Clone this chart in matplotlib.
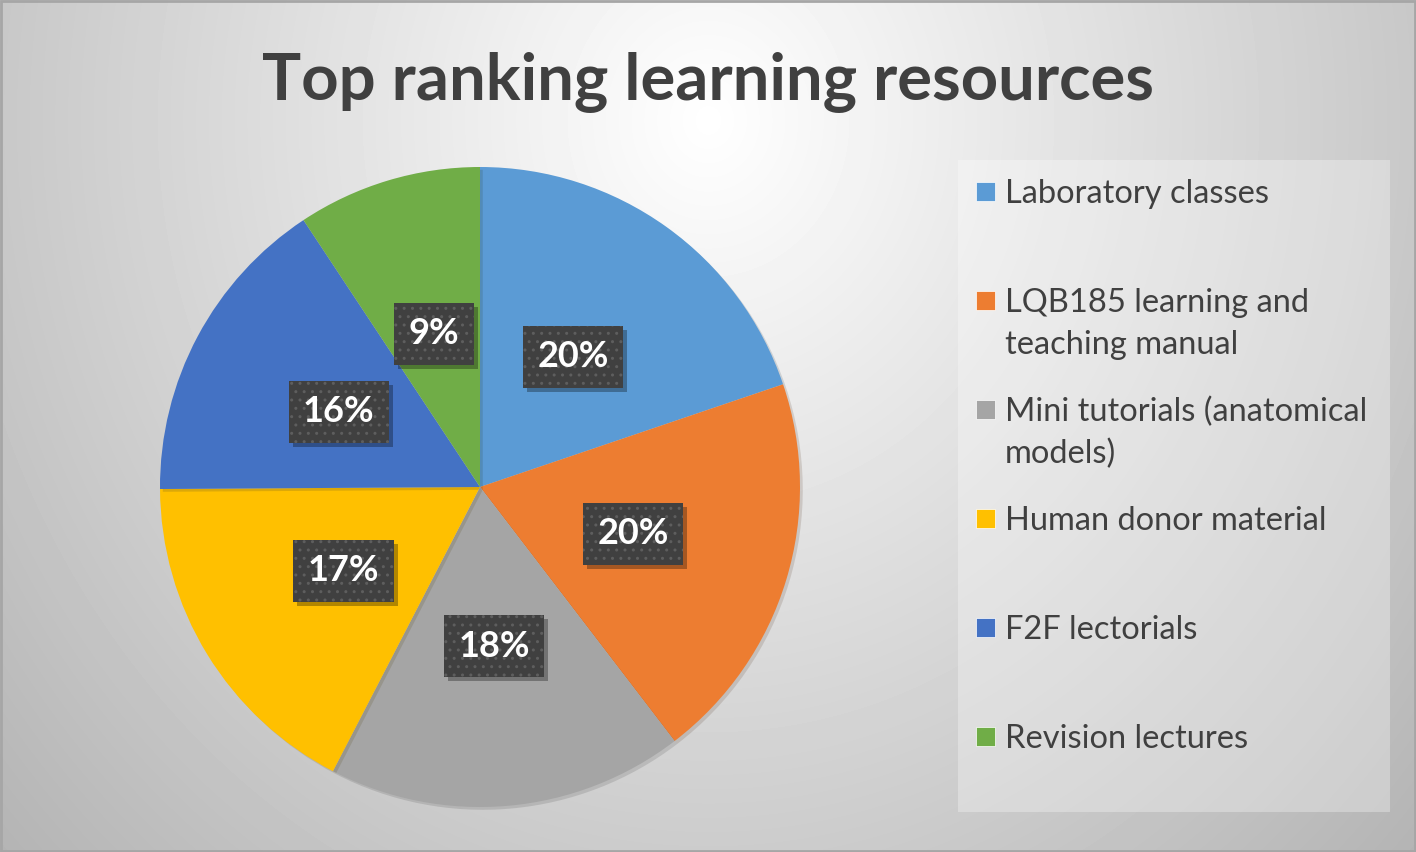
import numpy as np
import matplotlib
matplotlib.use("Agg")
import matplotlib.pyplot as plt
import matplotlib.patheffects as pe
from matplotlib.patches import Rectangle
from matplotlib.transforms import IdentityTransform

# data (share of responses, %)
resources = ["Laboratory classes", "LQB185 learning and\nteaching manual",
             "Mini tutorials (anatomical\nmodels)", "Human donor material",
             "F2F lectorials", "Revision lectures"]
shares = [19.8, 19.8, 18.0, 17.3, 15.8, 9.3]
colors = ["#5B9BD5", "#ED7D31", "#A5A5A5", "#FFC000", "#4472C4", "#70AD47"]
title = "Top ranking learning resources"

W, H = 1416, 852
plt.rcParams["font.family"] = ["Lato", "DejaVu Sans"]
plt.rcParams["hatch.linewidth"] = 1.0

fig = plt.figure(figsize=(W / 100, H / 100), dpi=100)

# radial grey background
bg = fig.add_axes([0, 0, 1, 1], zorder=-10)
yy, xx = np.mgrid[0:H, 0:W]
r = np.sqrt(((xx - 708) / 900.0) ** 2 + ((yy - 120) / 1000.0) ** 2)
val = np.clip(255 - 70 * r, 0, 255) / 255.0
bg.imshow(val, cmap="gray", vmin=0, vmax=1, extent=[0, W, H, 0], aspect="auto")
bg.set_xlim(0, W)
bg.set_ylim(H, 0)
bg.axis("off")

# legend panel
bg.add_patch(Rectangle((958, 160), 432, 652, facecolor="white", alpha=0.3, edgecolor="none"))
bg.add_patch(Rectangle((1, 1), W - 2, H - 2, facecolor="none", edgecolor="#a6a6a6", linewidth=2))

# pie
ax = fig.add_axes([160 / W, (H - 807) / H, 640 / W, 640 / H])
wedges, texts, autotexts = ax.pie(
    shares, colors=colors, startangle=90, counterclock=False,
    autopct="%.0f%%", pctdistance=0.5,
    wedgeprops=dict(linewidth=0),
    textprops=dict(color="white", fontsize=26, fontweight="bold"))
ax.set_xlim(-1, 1)
ax.set_ylim(-1, 1)
ax.set_autoscale_on(False)
for w in wedges:
    w.set_path_effects([pe.SimplePatchShadow(offset=(2, -2), alpha=0.15), pe.Normal()])

for t in autotexts:
    t.set_zorder(5)
    t.set_bbox(dict(boxstyle="square,pad=0.4", facecolor="#404040", edgecolor="#5e5e5e",
                    hatch="..", linewidth=0))

fig.text(708 / W, 1 - 100 / H, title, ha="center", va="baseline",
         fontsize=47, fontweight="bold", color="#404040")

# legend entries
for i, (lab, c) in enumerate(zip(resources, colors)):
    ytop = 192 + 109 * i
    bg.add_patch(Rectangle((976, ytop - 10), 19, 19, facecolor=c, edgecolor="white", linewidth=0.5))
    for j, line in enumerate(lab.split("\n")):
        bg.text(1005, ytop + 11 + 42 * j, line, ha="left", va="baseline",
                fontsize=23.5, color="#404040")

# drop shadows behind the label boxes
fig.canvas.draw()
for t in autotexts:
    bb = t.get_bbox_patch().get_window_extent()
    shadow = Rectangle((bb.x0 + 4, bb.y0 - 4), bb.width, bb.height,
                       transform=IdentityTransform(), facecolor="black", alpha=0.3,
                       edgecolor="none", zorder=3)
    ax.add_artist(shadow)

fig.savefig("out.png", dpi=100)
